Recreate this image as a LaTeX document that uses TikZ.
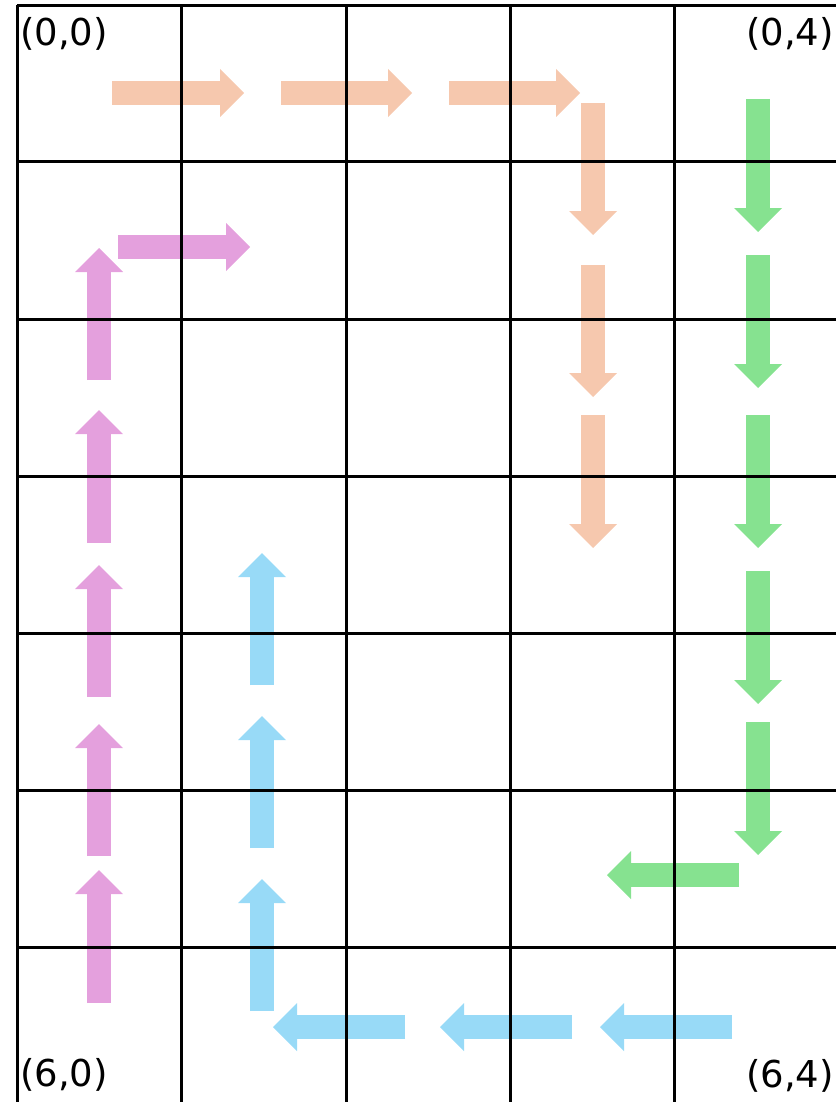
\documentclass[tikz,border=0pt]{standalone}
\usepackage{fontspec}
\setmainfont{DejaVu Sans}
\usetikzlibrary{arrows.meta}
\definecolor{peach}{HTML}{F6C8AE}
\definecolor{mint}{HTML}{86E290}
\definecolor{sky}{HTML}{98DAF7}
\definecolor{orchid}{HTML}{E4A0DD}

\begin{document}
\begin{tikzpicture}[
  x=1pt, y=-1pt,
  fat/.style={line width=24pt, -{Triangle[length=24pt,width=48pt,line width=0pt]}},
  gridline/.style={line width=3pt, black},
  corner/.style={font=\fontsize{37}{42}\selectfont, inner sep=0pt}
]
\useasboundingbox (0,0) rectangle (836,1102);

% peach: right along the top, then down
\foreach \xa/\xb in {112/244, 281/412, 449/580}
  \draw[fat, peach] (\xa,93) -- (\xb,93);
\foreach \ya/\yb in {103/235, 265/397, 415/548}
  \draw[fat, peach] (593,\ya) -- (593,\yb);

% mint: down the right column, then left
\foreach \ya/\yb in {99/232, 255/388, 415/548, 571/704, 722/855}
  \draw[fat, mint] (758,\ya) -- (758,\yb);
\draw[fat, mint] (739,875) -- (607,875);

% sky: left along the bottom, then up
\foreach \xa/\xb in {732/600, 572/440, 405/273}
  \draw[fat, sky] (\xa,1027) -- (\xb,1027);
\foreach \ya/\yb in {1011/879, 848/716, 685/553}
  \draw[fat, sky] (262,\ya) -- (262,\yb);

% orchid: up the left column, then right
\foreach \ya/\yb in {1003/870, 856/724, 697/565, 543/410, 380/248}
  \draw[fat, orchid] (99,\ya) -- (99,\yb);
\draw[fat, orchid] (118,247) -- (250,247);

% grid (no right or bottom border)
\foreach \x in {17, 181, 346, 510, 674}
  \draw[gridline] (\x,5) -- (\x,1102);
\foreach \y in {6, 162, 319, 476, 633, 790, 947}
  \draw[gridline] (17,\y) -- (836,\y);

% corner labels
\node[corner, anchor=base west] (tl) at (20,46) {(0,0)};
\node[corner, anchor=base east] (tr) at (834,46) {(0,4)};
\node[corner, anchor=base west] (bl) at (20,1086) {(6,0)};
\node[corner, anchor=base east] (br) at (834,1087) {(6,4)};
\end{tikzpicture}
\end{document}
